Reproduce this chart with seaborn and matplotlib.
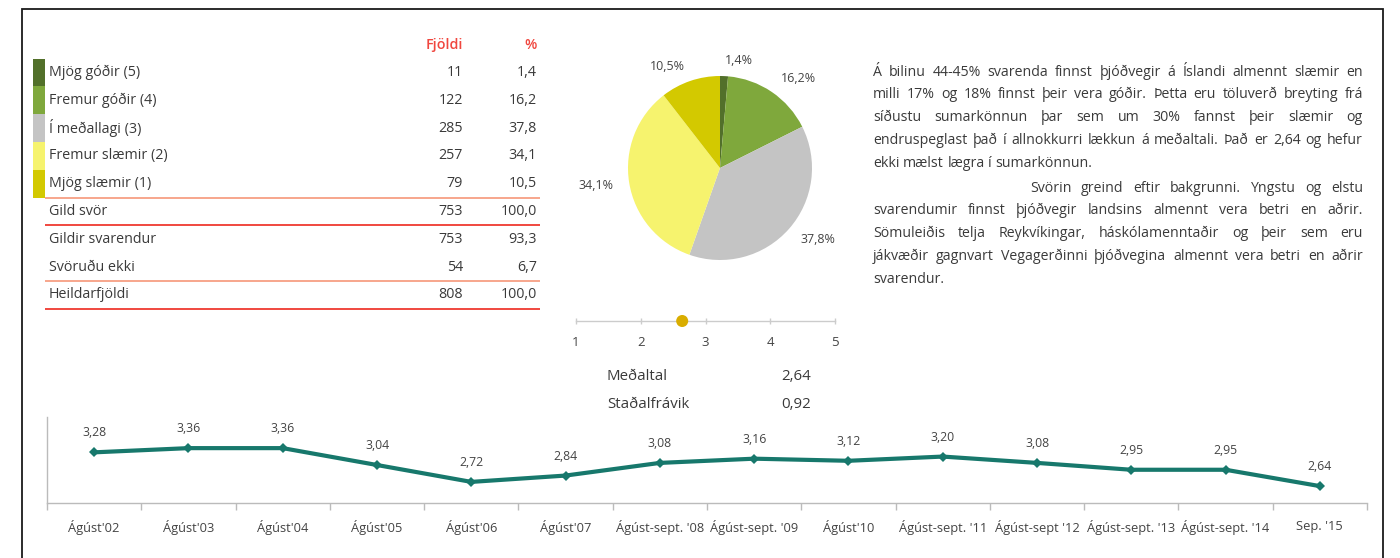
import numpy as np
import pandas as pd
import matplotlib
matplotlib.use("Agg")
import matplotlib.pyplot as plt
import seaborn as sns
from matplotlib.patches import Rectangle
from matplotlib.ticker import FixedLocator

# ---------------- data ----------------
categories = ["Mjög góðir (5)", "Fremur góðir (4)", "Í meðallagi (3)",
              "Fremur slæmir (2)", "Mjög slæmir (1)"]
counts = [11, 122, 285, 257, 79]
percents = [1.4, 16.2, 37.8, 34.1, 10.5]
cat_colors = ["#52702a", "#7fa83c", "#c4c4c4", "#f6f36e", "#d3c900"]

summary_labels = ["Gild svör", "Gildir svarendur", "Svöruðu ekki", "Heildarfjöldi"]
summary_counts = [753, 753, 54, 808]
summary_percents = [100.0, 93.3, 6.7, 100.0]
header_labels = ["Fjöldi", "%"]

mean_value = 2.64
std_value = 0.92
scale_ticks = [1, 2, 3, 4, 5]
stat_labels = ["Meðaltal", "Staðalfrávik"]

periods = ["Ágúst'02", "Ágúst'03", "Ágúst'04", "Ágúst'05", "Ágúst'06", "Ágúst'07",
           "Ágúst-sept. '08", "Ágúst-sept. '09", "Ágúst'10", "Ágúst-sept. '11",
           "Ágúst-sept '12", "Ágúst-sept. '13", "Ágúst-sept. '14", "Sep. '15"]
period_means = [3.28, 3.36, 3.36, 3.04, 2.72, 2.84, 3.08, 3.16, 3.12, 3.20,
                3.08, 2.95, 2.95, 2.64]

paragraph1 = [
    "Á bilinu 44-45% svarenda finnst þjóðvegir á Íslandi almennt slæmir en",
    "milli 17% og 18% finnst þeir vera góðir. Þetta eru töluverð breyting frá",
    "síðustu sumarkönnun þar sem um 30% fannst þeir slæmir og",
    "endruspeglast það í allnokkurri lækkun á meðaltali. Það er 2,64 og hefur",
    "ekki mælst lægra í sumarkönnun.",
]
paragraph2 = [
    "Svörin greind eftir bakgrunni. Yngstu og elstu",
    "svarendumir finnst þjóðvegir landsins almennt vera betri en aðrir.",
    "Sömuleiðis telja Reykvíkingar, háskólamenntaðir og þeir sem eru",
    "jákvæðir gagnvart Vegagerðinni þjóðvegina almennt vera betri en aðrir",
    "svarendur.",
]


def fmt(v, d):
    return f"{v:.{d}f}".replace(".", ",")


# ---------------- figure ----------------
sns.set_theme(style="white")
plt.rcParams["font.family"] = ["Open Sans", "DejaVu Sans"]
TXT = "#3a3a3a"
RED = "#f0473f"
SALMON = "#f7a68c"

W, H = 1400, 558
fig = plt.figure(figsize=(W / 100, H / 100), dpi=100)
fig.patch.set_facecolor("white")


def rect(x0, y0, x1, y1):
    return [x0 / W, 1 - y1 / H, (x1 - x0) / W, (y1 - y0) / H]


ov = fig.add_axes([0, 0, 1, 1])
ov.set_xlim(0, W)
ov.set_ylim(H, 0)
ov.axis("off")

# outer frame
ov.plot([22, 22, 1383, 1383], [H, 9, 9, H], color="#1a1a1a", lw=1.3,
        solid_joinstyle="miter")

# ---------------- table ----------------
row0, step = 72.5, 27.8
x_lab, x_cnt, x_pct = 49, 463, 537
fs_tab = 10.3
ov.text(x_cnt, 45, header_labels[0], color=RED, fontsize=fs_tab, ha="right", va="center",
        fontweight="semibold")
ov.text(x_pct, 45, header_labels[1], color=RED, fontsize=fs_tab, ha="right", va="center",
        fontweight="semibold")

all_labels = categories + summary_labels
all_counts = counts + summary_counts
all_pcts = percents + summary_percents
for i, (lab, c, p) in enumerate(zip(all_labels, all_counts, all_pcts)):
    y = row0 + i * step
    ov.text(x_lab, y, lab, color=TXT, fontsize=fs_tab, ha="left", va="center")
    ov.text(x_cnt, y, str(c), color=TXT, fontsize=fs_tab, ha="right", va="center")
    ov.text(x_pct, y, fmt(p, 1), color=TXT, fontsize=fs_tab, ha="right", va="center")
    if i < len(categories):
        ov.add_patch(Rectangle((33, y - step / 2), 12, step, color=cat_colors[i], lw=0))

for idx, col in [(4, SALMON), (5, RED), (7, SALMON), (8, RED)]:
    yl = row0 + idx * step + step / 2
    ov.plot([45, 540], [yl, yl], color=col, lw=1.4, solid_capstyle="butt")

# ---------------- pie ----------------
cx, cy, r = 720, 168, 92
half = 1.6 * r
axp = fig.add_axes(rect(cx - half, cy - half, cx + half, cy + half))
axp.pie(percents, colors=cat_colors, startangle=90, counterclock=False,
        labels=[fmt(p, 1) + "%" for p in percents], labeldistance=1.17,
        wedgeprops=dict(linewidth=0),
        textprops=dict(fontsize=9, color="#444444"))
axp.set_xlim(-1.6, 1.6)
axp.set_ylim(-1.6, 1.6)
axp.axis("off")

# ---------------- mean scale ----------------
axs = fig.add_axes(rect(576, 300, 835, 321))
sns.scatterplot(x=[mean_value], y=[0.0], ax=axs, color="#d9ad00", s=75,
                edgecolor="none", clip_on=False, zorder=5)
axs.set_xlim(scale_ticks[0], scale_ticks[-1])
axs.set_ylim(0, 1)
for s in ["top", "right", "left"]:
    axs.spines[s].set_visible(False)
axs.spines["bottom"].set_color("#cccccc")
axs.spines["bottom"].set_linewidth(1)
axs.set_xticks(scale_ticks)
axs.set_xticklabels([str(t) for t in scale_ticks])
axs.set_yticks([])
axs.set_xlabel("")
axs.set_ylabel("")
axs.tick_params(axis="x", direction="inout", length=5, width=1, color="#cccccc",
                labelsize=9.5, labelcolor="#444444", pad=8, bottom=True)
axs.patch.set_alpha(0)

for k, (lab, val) in enumerate(zip(stat_labels, [mean_value, std_value])):
    y = 377 + k * 28
    ov.text(607, y, lab, color=TXT, fontsize=10.8, ha="left", va="center")
    ov.text(811, y, fmt(val, 2), color=TXT, fontsize=10.8, ha="right", va="center")

# ---------------- paragraph (justified) ----------------
renderer = fig.canvas.get_renderer()
fs_par = 10.2


def text_width(s):
    t = ov.text(0, 0, s, fontsize=fs_par)
    w = t.get_window_extent(renderer).width
    t.remove()
    return w


space_w = text_width("a a") - text_width("aa")


def draw_paragraph(lines, x0, x1, y0, lh, indent):
    for k, line in enumerate(lines):
        y = y0 + k * lh
        start = x0 + (indent if k == 0 else 0)
        words = line.split(" ")
        widths = [text_width(w) for w in words]
        last = k == len(lines) - 1
        if last or len(words) == 1:
            gap = space_w
        else:
            gap = (x1 - start - sum(widths)) / (len(words) - 1)
        x = start
        for w, wd in zip(words, widths):
            ov.text(x, y, w, fontsize=fs_par, color=TXT, ha="left", va="center")
            x += wd + gap


draw_paragraph(paragraph1, 873, 1363, 72, 22.8, 0)
draw_paragraph(paragraph2, 873, 1363, 188, 22.8, 157)

# ---------------- line chart ----------------
axl = fig.add_axes(rect(47, 417, 1367, 503))
df = pd.DataFrame({"pos": np.arange(len(periods)), "mean": period_means})
sns.lineplot(data=df, x="pos", y="mean", ax=axl, color="#17786c", lw=3,
             marker="D", markersize=5, markeredgewidth=0)
axl.set_xlim(-0.5, len(periods) - 0.5)
axl.set_ylim(2.32, 3.95)
axl.set_xlabel("")
axl.set_ylabel("")
axl.set_yticks([])
for s in ["top", "right"]:
    axl.spines[s].set_visible(False)
for s in ["left", "bottom"]:
    axl.spines[s].set_color("#bbbbbb")
    axl.spines[s].set_linewidth(1)
axl.set_xticks(np.arange(len(periods)))
axl.set_xticklabels(periods)
axl.xaxis.set_minor_locator(FixedLocator(np.arange(len(periods) + 1) - 0.5))
axl.tick_params(axis="x", which="major", length=0, labelsize=9.3, labelcolor="#444444", pad=12)
axl.tick_params(axis="x", which="minor", direction="out", length=5, width=1,
                color="#bbbbbb", bottom=True)
axl.patch.set_alpha(0)
for i, v in enumerate(period_means):
    axl.annotate(fmt(v, 2), (i, v), xytext=(0, 14), textcoords="offset points",
                 ha="center", va="center", fontsize=8.8, color="#444444")

fig.savefig("out.png", dpi=100)
